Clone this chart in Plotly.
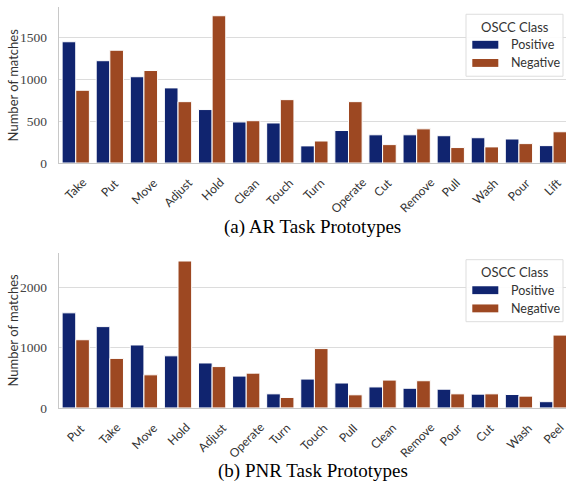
import plotly.graph_objects as go

# AR task prototypes
ar_actions = ["Take", "Put", "Move", "Adjust", "Hold", "Clean", "Touch", "Turn",
              "Operate", "Cut", "Remove", "Pull", "Wash", "Pour", "Lift"]
ar_positive = [1445, 1219, 1028, 895, 637, 489, 477, 204, 387, 336, 336, 325, 301, 286, 207]
ar_negative = [867, 1344, 1102, 731, 1755, 504, 755, 262, 731, 219, 407, 184, 192, 231, 372]

# PNR task prototypes
pnr_actions = ["Put", "Take", "Move", "Hold", "Adjust", "Operate", "Turn", "Touch",
               "Pull", "Clean", "Remove", "Pour", "Cut", "Wash", "Peel"]
pnr_positive = [1580, 1351, 1046, 866, 747, 529, 234, 480, 414, 349, 327, 311, 229, 223, 104]
pnr_negative = [1133, 823, 550, 2441, 687, 578, 174, 986, 218, 463, 452, 234, 234, 196, 1210]

ar_ticks = [0, 500, 1000, 1500]
pnr_ticks = [0, 1000, 2000]

POS_COLOR = "#10246f"
NEG_COLOR = "#9d4822"
W, H = 566, 491

SANS = "Lato"
SERIF = "Liberation Serif"
TEXT_COLOR = "#333333"
GRID = "#dcdcdc"
SPINE = "#c8c8c8"

fig = go.Figure()

panels = [
    dict(x=ar_actions, pos=ar_positive, neg=ar_negative, xa="x", ya="y",
         top=7.3, bottom=165.7, ymax=1857, ticks=ar_ticks,
         caption="(a) AR Task Prototypes", cap_y=231, legend_top=14.5),
    dict(x=pnr_actions, pos=pnr_positive, neg=pnr_negative, xa="x2", ya="y2",
         top=256.7, bottom=414.7, ymax=2582, ticks=pnr_ticks,
         caption="(b) PNR Task Prototypes", cap_y=479, legend_top=264),
]

annotations = []
shapes = []
left_px = 58.7

for i, p in enumerate(panels):
    fig.add_trace(go.Bar(x=p["x"], y=p["pos"], name="Positive", xaxis=p["xa"], yaxis=p["ya"],
                         marker=dict(color=POS_COLOR, line=dict(color="white", width=1)),
                         showlegend=False))
    fig.add_trace(go.Bar(x=p["x"], y=p["neg"], name="Negative", xaxis=p["xa"], yaxis=p["ya"],
                         marker=dict(color=NEG_COLOR, line=dict(color="white", width=1)),
                         showlegend=False))

    suffix = "" if i == 0 else str(i + 1)
    dom = [1 - p["bottom"] / H, 1 - p["top"] / H]
    fig.update_layout(**{
        "xaxis" + suffix: dict(domain=[left_px / W, 1], range=[-0.5, 14.38],
                               anchor="y" + suffix, showticklabels=False, ticks="",
                               showline=True, linecolor=SPINE, linewidth=1.25,
                               showgrid=False, zeroline=False, type="category"),
        "yaxis" + suffix: dict(domain=dom, range=[0, p["ymax"]], anchor="x" + suffix,
                               tickvals=p["ticks"], ticks="", showline=True,
                               linecolor=SPINE, linewidth=1.25, showgrid=True,
                               gridcolor=GRID, gridwidth=1, zeroline=False,
                               ticklabelstandoff=8,
                               tickfont=dict(family=SERIF, size=13.5, color="#444444")),
    })

    # rotated category labels, centred under each pair of bars
    for name in p["x"]:
        annotations.append(dict(x=name, xref=p["xa"], y=1 - (p["bottom"] + 9.5) / H,
                                yref="paper", text=name, textangle=-45, showarrow=False,
                                xanchor="center", yanchor="top",
                                font=dict(family=SANS, size=12, color=TEXT_COLOR)))

    # y-axis title
    annotations.append(dict(x=13.3 / W, xref="paper",
                            y=1 - (p["top"] + p["bottom"]) / 2 / H, yref="paper",
                            text="Number of matches", textangle=-90, showarrow=False,
                            xanchor="center", yanchor="middle",
                            font=dict(family=SANS, size=13, color=TEXT_COLOR)))

    # caption under the panel
    annotations.append(dict(x=312.5 / W, xref="paper", y=1 - p["cap_y"] / H, yref="paper",
                            text=p["caption"], showarrow=False, xanchor="center",
                            yanchor="middle",
                            font=dict(family=SERIF, size=19, color="black")))

    # legend box
    lt = p["legend_top"]
    shapes.append(dict(type="rect", xref="paper", yref="paper",
                       x0=466 / W, x1=563 / W, y0=1 - (lt + 63) / H, y1=1 - lt / H,
                       fillcolor="rgba(255,255,255,0.9)", line=dict(color="#dddddd", width=1),
                       layer="above"))
    annotations.append(dict(x=514.5 / W, xref="paper", y=1 - (lt + 12.5) / H, yref="paper",
                            text="OSCC Class", showarrow=False, xanchor="center",
                            yanchor="middle",
                            font=dict(family=SANS, size=13, color=TEXT_COLOR)))
    for j, (label, color) in enumerate([("Positive", POS_COLOR), ("Negative", NEG_COLOR)]):
        cy = lt + 31 + j * 18.5
        shapes.append(dict(type="rect", xref="paper", yref="paper",
                           x0=472.3 / W, x1=498.3 / W, y0=1 - (cy + 4) / H, y1=1 - (cy - 4) / H,
                           fillcolor=color, line=dict(width=0), layer="above"))
        annotations.append(dict(x=509 / W, xref="paper", y=1 - cy / H, yref="paper",
                                text=label, showarrow=False, xanchor="left",
                                yanchor="middle",
                                font=dict(family=SANS, size=12.5, color=TEXT_COLOR)))

fig.update_layout(
    width=W, height=H,
    margin=dict(l=0, r=0, t=0, b=0),
    paper_bgcolor="white", plot_bgcolor="white",
    barmode="group", bargap=0.2, bargroupgap=0,
    annotations=annotations, shapes=shapes,
    showlegend=False,
)

fig.write_html("out.html")
